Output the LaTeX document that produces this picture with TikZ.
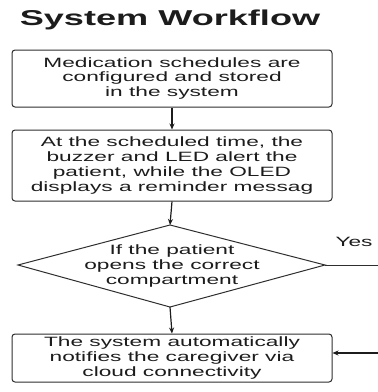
\documentclass[tikz,border=0pt]{standalone}
\usepackage{fontspec}
\setmainfont{Liberation Sans}[FakeStretch=1.68]
\usetikzlibrary{arrows.meta}
\definecolor{ink}{HTML}{1C1C1C}
\definecolor{edge}{HTML}{2E2E2E}
\begin{document}
\begin{tikzpicture}[x=1pt,y=-1pt,
  stepbox/.style={draw=edge, line width=1pt, rounded corners=3pt, minimum width=320pt,
    inner sep=0pt, align=center, text=ink, font=\fontsize{13.5}{14.8}\selectfont},
  flow/.style={draw=ink, line width=1.2pt, -{Stealth[length=6pt,width=5pt]}},
  plain/.style={draw=edge, line width=1pt},
  lbl/.style={text=ink, font=\fontsize{13.5}{14.8}\selectfont, inner sep=0pt, align=center}]
\useasboundingbox (0,0) rectangle (378,392);
% title
\node[text=ink, font=\fontsize{21.5}{24}\bfseries\selectfont, anchor=base] (title) at (170,25) {System Workflow};
% process boxes
\node[stepbox, minimum height=57pt] (b1) at (172,78.5)
  {Medication schedules are\\configured and stored\\in the system};
\node[stepbox, minimum height=71pt] (b2) at (172,165.5)
  {At the scheduled time, the\\buzzer and LED alert the\\patient, while the OLED\\displays a reminder messag};
% decision
\coordinate (dT) at (170,225);
\coordinate (dR) at (325,265);
\coordinate (dB) at (170,307);
\coordinate (dL) at (18,265);
\draw[plain, line join=miter] (dT) -- (dR) -- (dB) -- (dL) -- cycle;
\node[lbl] (q) at (172,266) {If the patient\\opens the correct\\compartment};
\node[stepbox, minimum height=48pt] (b4) at (172,358)
  {The system automatically\\notifies the caregiver via\\cloud connectivity};
% connectors
\draw[flow] (b1.south) -- (b2.north);
\draw[flow] (b2.south) -- (dT);
\draw[flow] (dB) -- (b4.north);
\coordinate (yesEnd) at (378,265);
\draw[plain] (dR) -- (yesEnd);
\node[lbl, anchor=base] (yes) at (354,246) {Yes};
\coordinate (back) at (378,353);
\draw[flow] (back) -- (back -| b4.east);
\end{tikzpicture}
\end{document}
